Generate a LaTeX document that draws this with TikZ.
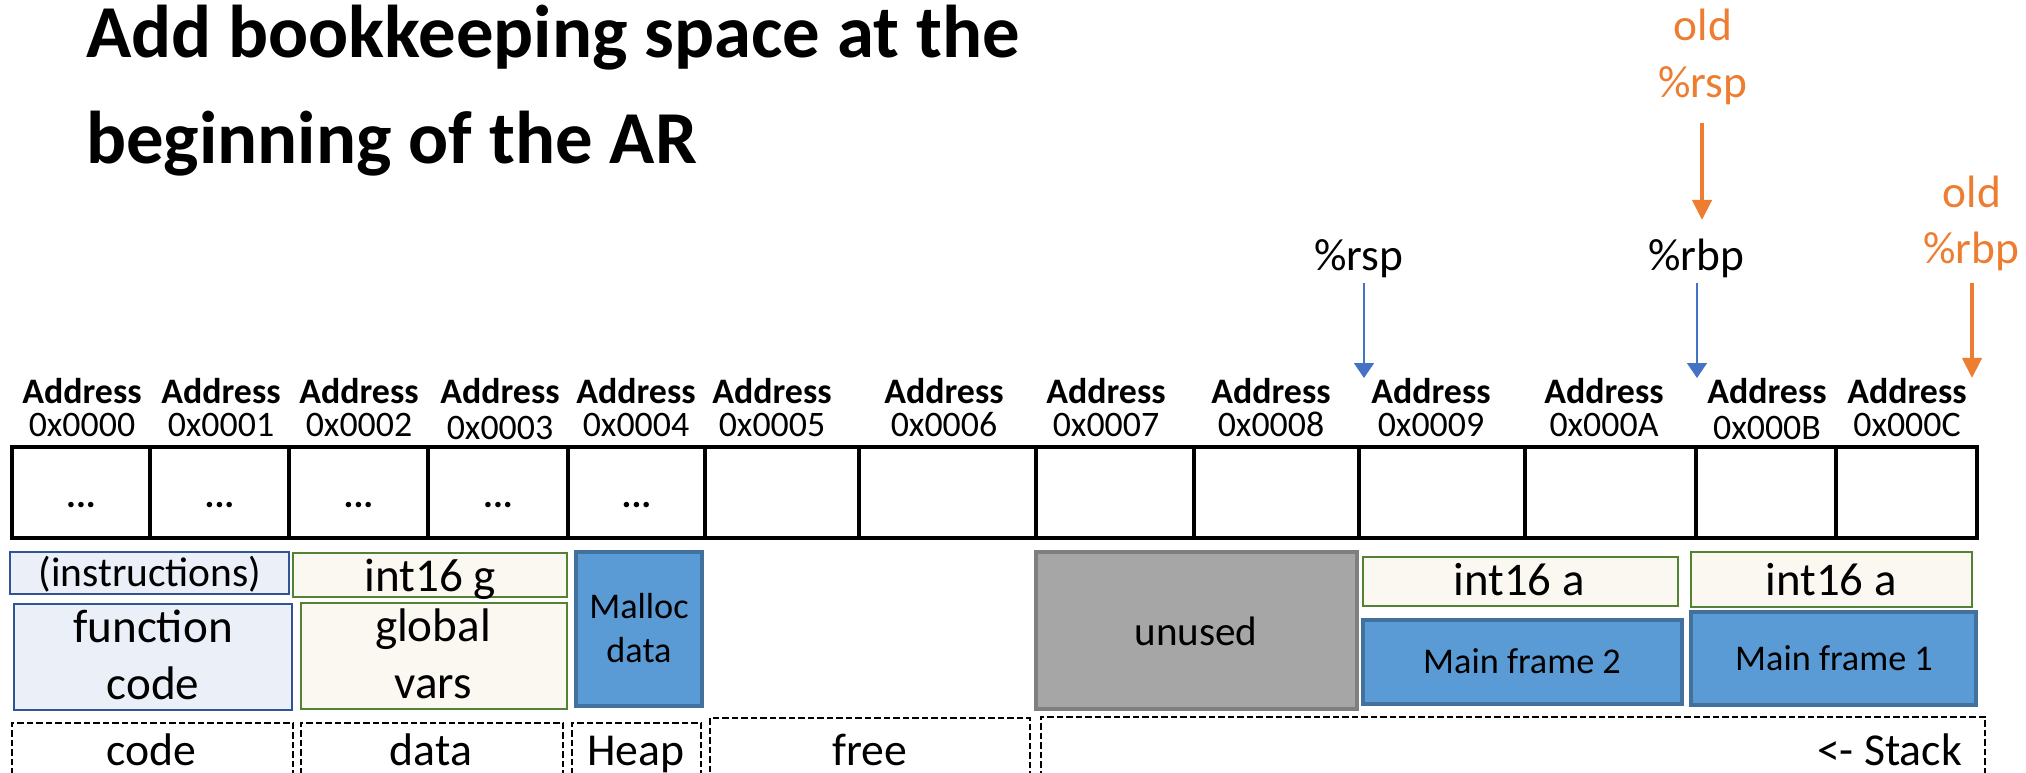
\documentclass[tikz,border=0pt]{standalone}
\usepackage{fontspec}
\setmainfont{Carlito}
\usetikzlibrary{arrows.meta,fit}

\definecolor{ptrorange}{HTML}{ED7D31}
\definecolor{ptrblue}{HTML}{4472C4}
\definecolor{codefill}{HTML}{EAEFF8}
\definecolor{codeline}{HTML}{2F5597}
\definecolor{datafill}{HTML}{FBF7F1}
\definecolor{dataline}{HTML}{548235}
\definecolor{heapfill}{HTML}{5B9BD5}
\definecolor{heapline}{HTML}{41719C}
\definecolor{unusedfill}{HTML}{A6A6A6}
\definecolor{unusedline}{HTML}{7F7F7F}

\newcommand\fsz[1]{\fontsize{#1}{#1}\selectfont}

\begin{document}
\begin{tikzpicture}[x=0.01cm, y=-0.01cm,
  every node/.style={inner sep=0pt, outer sep=0pt},
  cellbox/.style={draw=black, line width=1pt},
  addrtxt/.style={anchor=base, font=\bfseries\fsz{10.2}},
  hextxt/.style={anchor=base, font=\fsz{10.2}},
  dotstxt/.style={anchor=base, font=\bfseries\fsz{10.5}},
  txt/.style={anchor=base},
  codebox/.style={draw=codeline, fill=codefill, line width=0.8pt},
  databox/.style={draw=dataline, fill=datafill, line width=0.8pt},
  heapbox/.style={draw=heapline, fill=heapfill, line width=0.9pt},
  unusedbox/.style={draw=unusedline, fill=unusedfill, line width=0.9pt},
  regionbox/.style={draw=black, line width=0.65pt, dash pattern=on 0.065cm off 0.03cm},
  ptrtxt/.style={anchor=base, font=\fsz{12.9}},
  bluearrow/.style={draw=ptrblue, line width=0.45pt, -{Triangle[width=0.2cm, length=0.15cm]}},
  orangearrow/.style={draw=ptrorange, line width=1.2pt, -{Triangle[width=0.19cm, length=0.2cm]}}
]
\useasboundingbox (0,0) rectangle (2026,772);

% heading
\node[anchor=base west, font=\bfseries\fsz{21.25}] (title1) at (86,57) {Add bookkeeping space at the};
\node[anchor=base west, font=\bfseries\fsz{21.25}] (title2) at (86,163) {beginning of the AR};

% memory cells
\foreach \n/\l/\r in {0/12/150, 1/150/289, 2/289/428, 3/428/568, 4/568/705,
                      5/705/859, 6/859/1036, 7/1036/1194, 8/1194/1359,
                      9/1359/1525, 10/1525/1696, 11/1696/1836, 12/1836/1977}
  \node[cellbox, fit={(\l,447) (\r,538)}] (cell\n) {};

% contents of the first cells
\foreach \n in {0,...,4}
  \node[dotstxt] (dots\n) at (cell\n.center |- 0,507) {...};

% address labels
\foreach \n/\cx/\lab/\hy in {0/82/0x0000/436, 1/221/0x0001/436, 2/359/0x0002/436,
                             3/500/0x0003/439, 4/636/0x0004/436, 5/772/0x0005/436,
                             6/944/0x0006/436, 7/1106/0x0007/436, 8/1271/0x0008/436,
                             9/1431/0x0009/436, 10/1604/0x000A/436, 11/1767/0x000B/439,
                             12/1907/0x000C/436}
{
  \node[addrtxt] (addr\n) at (\cx,403) {Address};
  \node[hextxt] (hex\n) at (\cx,\hy) {\lab};
}

% code segment
\node[codebox, fit={(10,552) (289,594)}] (instrbox) {};
\node[txt, font=\fsz{11.8}] (instr) at (150,586) {(instructions)};
\node[codebox, fit={(14,604) (292,710)}] (funcbox) {};
\node[txt, font=\fsz{13.4}] (func1) at (153,642) {function};
\node[txt, font=\fsz{13.4}] (func2) at (153,699) {code};

% data segment
\node[databox, fit={(293,553) (567,597)}] (gbox) {};
\node[txt, font=\fsz{13.4}] (gvar) at (430,591) {int16 g};
\node[databox, fit={(301,603) (567,709)}] (globbox) {};
\node[txt, font=\fsz{13.4}] (glob1) at (433,641) {global};
\node[txt, font=\fsz{13.4}] (glob2) at (433,698) {vars};

% heap
\node[heapbox, fit={(576,552) (702,706)}] (mallocbox) {};
\node[txt, font=\fsz{10.3}] (malloc1) at (639,618) {Malloc};
\node[txt, font=\fsz{10.3}] (malloc2) at (639,662) {data};

% stack
\node[unusedbox, fit={(1036,552) (1357,709)}] (unusedbox) {};
\node[txt, font=\fsz{11.7}] (unused) at (1196,645) {unused};
\node[databox, fit={(1363,557) (1678,606)}] (abox2) {};
\node[txt, font=\fsz{13.3}] (avar2) at (1519,595) {int16 a};
\node[databox, fit={(1691,552) (1972,607)}] (abox1) {};
\node[txt, font=\fsz{13.3}] (avar1) at (1831,595) {int16 a};
\node[heapbox, fit={(1363,620) (1682,704)}] (frame2box) {};
\node[txt, font=\fsz{10.3}] (frame2) at (1522,673) {Main frame 2};
\node[heapbox, fit={(1691,612) (1976,705)}] (frame1box) {};
\node[txt, font=\fsz{10.3}] (frame1) at (1834,670) {Main frame 1};

% memory regions
\node[regionbox, fit={(12,723) (293,800)}] (coderegion) {};
\node[regionbox, fit={(301,723) (563,800)}] (dataregion) {};
\node[regionbox, fit={(572,723) (701,800)}] (heapregion) {};
\node[regionbox, fit={(710,718) (1030,800)}] (freeregion) {};
\node[regionbox, fit={(1041,717) (1985,800)}] (stackregion) {};
\node[txt, font=\fsz{13}] (codelbl) at (151,765) {code};
\node[txt, font=\fsz{13}] (datalbl) at (431,765) {data};
\node[txt, font=\fsz{13}] (heaplbl) at (636,765) {Heap};
\node[txt, font=\fsz{13}] (freelbl) at (870,765) {free};
\node[anchor=base east, font=\fsz{13}] (stacklbl) at (1962,765) {<- Stack};

% register pointers
\node[ptrtxt] (rsp) at (1359,270) {\%rsp};
\node[ptrtxt] (rbp) at (1696,270) {\%rbp};
\node[ptrtxt, text=ptrorange] (oldrspA) at (1703,40) {old};
\node[ptrtxt, text=ptrorange] (oldrsp) at (1703,97) {\%rsp};
\node[ptrtxt, text=ptrorange] (oldrbpA) at (1972,207) {old};
\node[ptrtxt, text=ptrorange] (oldrbp) at (1971,263) {\%rbp};

\coordinate (rspTip) at (1364,378);
\coordinate (rbpTip) at (1697,378);
\coordinate (oldrspTip) at (1702,220);
\coordinate (oldrbpTip) at (1972,378);

\draw[bluearrow] (rsp.south -| rspTip) ++(0,6) -- (rspTip);
\draw[bluearrow] (rbp.south -| rbpTip) ++(0,6) -- (rbpTip);
\draw[orangearrow] (oldrsp.south -| oldrspTip) ++(0,19) -- (oldrspTip);
\draw[orangearrow] (oldrbp.south -| oldrbpTip) ++(0,13) -- (oldrbpTip);
\end{tikzpicture}
\end{document}
